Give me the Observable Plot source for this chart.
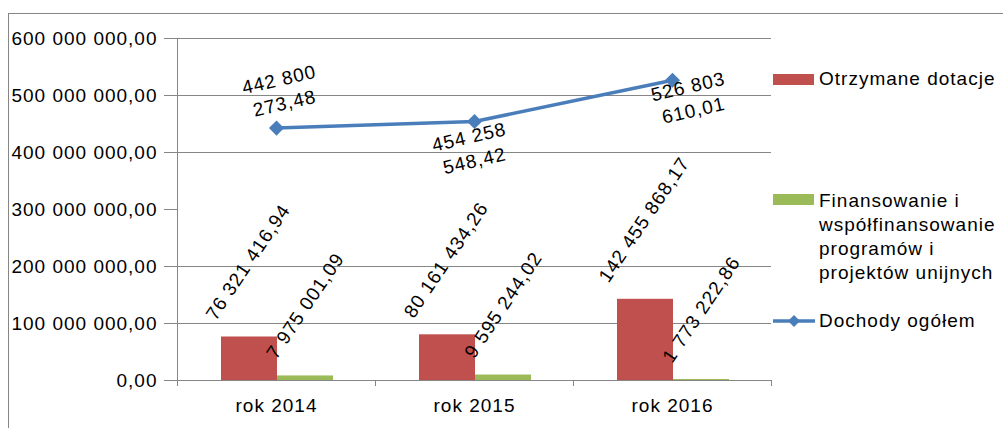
<!DOCTYPE html>
<html>
<head>
<meta charset="utf-8">
<script src="https://cdn.jsdelivr.net/npm/d3@7"></script>
<script src="https://cdn.jsdelivr.net/npm/@observablehq/plot@0.6"></script>
<style>
  html, body { margin: 0; padding: 0; background: #fff; }
  #wrap { position: relative; width: 1003px; height: 428px; overflow: hidden;
          font-family: "Liberation Sans", Arial, sans-serif; }
  #frame { position: absolute; left: 8px; top: 13px; width: 1200px; height: 600px;
           border-top: 1px solid #868686; border-left: 1px solid #868686; pointer-events: none; }
  #chart { position: absolute; left: 0; top: 0; }
  #chart svg text { fill: #000; font-family: "Liberation Sans", Arial, sans-serif; font-size: 19px; letter-spacing: 1px; }
  .leg { position: absolute; font-size: 19px; letter-spacing: 1px; line-height: 24.2px; color: #000; white-space: nowrap; }
  .sw { position: absolute; width: 41px; height: 11px; }
</style>
</head>
<body>
<div id="wrap">
  <div id="chart"></div>
  <div id="frame"></div>
  <div id="legend"></div>
</div>
<script>
// ---- data ----
const years = ["rok 2014", "rok 2015", "rok 2016"];
const dotacje = [76321416.94, 80161434.26, 142455868.17];
const finansowanie = [7975001.09, 9595244.02, 1773222.86];
const dochody = [442800273.48, 454258548.42, 526803610.01];
const yTicks = [0, 100e6, 200e6, 300e6, 400e6, 500e6, 600e6];
const gridValues = [100e6, 200e6, 400e6, 500e6, 600e6];
const seriesNames = ["Otrzymane dotacje", "Finansowanie i współfinansowanie programów i projektów unijnych", "Dochody ogółem"];
const legendLines = [["Otrzymane dotacje"], ["Finansowanie i", "współfinansowanie", "programów i", "projektów unijnych"], ["Dochody ogółem"]];
const colors = ["#C0504D", "#9BBB59", "#4A7EBB"];

// ---- helpers ----
const loc = d3.formatLocale({decimal: ",", thousands: " ", grouping: [3], currency: ["", ""]});
const fmt = loc.format(",.2f");
const ctx = document.createElement("canvas").getContext("2d");
ctx.font = "19px 'Liberation Sans'";
const LS = 1;
const textLen = s => ctx.measureText(s).width + LS * s.length;

const W = 1003, H = 428;
const mL = 177, mR = 232, mT = 38, mB = 48;
const step = (W - mL - mR) / years.length;

const barTable = years.map((y, i) => ({year: y, dot: dotacje[i], fin: finansowanie[i], doch: dochody[i]}));

// bar labels
const ANG = 56, SIN = Math.sin(ANG * Math.PI / 180);
const redOff = -28.3, greenOff = 29;
const barLabelMarks = [];
[["dot", redOff], ["fin", greenOff]].forEach(([key, off]) => {
  barTable.forEach(d => {
    const t = fmt(d[key]);
    const L = textLen(t);
    barLabelMarks.push(Plot.text([d], {
      x: "year", y: key, text: () => t, rotate: -ANG, textAnchor: "middle",
      dx: off, dy: -(L / 2 * SIN + 19), fill: "#000"
    }));
  });
});

// line labels
const lineLabelOffsets = [[5, -38], [-3, 26], [18, 17]];
const lineLabelMarks = barTable.map((d, i) => {
  const s = fmt(d.doch);
  const k = s.lastIndexOf(" ");
  const t = s.slice(0, k) + "\n" + s.slice(k + 1);
  return Plot.text([d], {
    x: "year", y: "doch", text: () => t, rotate: -13, lineHeight: 1.28,
    textAnchor: "middle", dx: lineLabelOffsets[i][0], dy: lineLabelOffsets[i][1], fill: "#000"
  });
});

const boundaries = years.map((y, i) => ({year: y, top: i === 0 ? 600e6 : 0}));

const chart = Plot.plot({
  width: W, height: H,
  marginLeft: mL, marginRight: mR, marginTop: mT, marginBottom: mB,
  style: {background: "transparent", color: "#868686", fontFamily: "Liberation Sans", fontSize: "19px", overflow: "visible"},
  x: {domain: years, padding: 0, tickSize: 0, tickPadding: 18, label: null},
  y: {domain: [0, 600e6], ticks: yTicks, tickFormat: fmt, tickSize: 13, tickPadding: 7, label: null, grid: false, line: false},
  marks: [
    Plot.ruleY(gridValues, {stroke: "#868686", strokeWidth: 1}),
    Plot.ruleY([0], {stroke: "#868686", strokeWidth: 1}),
    Plot.ruleX(boundaries, {x: "year", y1: "top", y2: () => 0, dx: -step / 2, insetBottom: -6, stroke: "#868686"}),
    Plot.ruleX([boundaries[boundaries.length - 1]], {x: "year", y1: () => 0, y2: () => 0, dx: step / 2, insetBottom: -6, stroke: "#868686"}),
    Plot.barY(barTable, {x: "year", y: "dot", fill: colors[0], insetLeft: 44, insetRight: 98}),
    Plot.barY(barTable, {x: "year", y: "fin", fill: colors[1], insetLeft: 100, insetRight: 42}),
    Plot.line(barTable, {x: "year", y: "doch", stroke: colors[2], strokeWidth: 3.5}),
    Plot.dot(barTable, {x: "year", y: "doch", symbol: "diamond2", r: 6.8, fill: colors[2], stroke: "none"}),
    ...barLabelMarks,
    ...lineLabelMarks
  ]
});
document.getElementById("chart").appendChild(chart);

// ---- legend (HTML) ----
const legend = document.getElementById("legend");
const legTops = [67, 188.6, 308.6];
const swTops = [74, 194, 0];
legendLines.forEach((lines, i) => {
  const txt = document.createElement("div");
  txt.className = "leg";
  txt.style.left = "819px";
  txt.style.top = legTops[i] + "px";
  txt.innerHTML = lines.join("<br>");
  txt.title = seriesNames[i];
  legend.appendChild(txt);
  if (i < 2) {
    const sw = document.createElement("div");
    sw.className = "sw";
    sw.style.left = "773px";
    sw.style.top = swTops[i] + "px";
    sw.style.background = colors[i];
    legend.appendChild(sw);
  } else {
    const ns = "http://www.w3.org/2000/svg";
    const s = document.createElementNS(ns, "svg");
    s.setAttribute("width", 44); s.setAttribute("height", 16);
    s.style.position = "absolute"; s.style.left = "772px"; s.style.top = "313px";
    const l = document.createElementNS(ns, "line");
    l.setAttribute("x1", 1); l.setAttribute("x2", 43); l.setAttribute("y1", 8); l.setAttribute("y2", 8);
    l.setAttribute("stroke", colors[2]); l.setAttribute("stroke-width", 3.5);
    const p = document.createElementNS(ns, "path");
    p.setAttribute("d", "M22,2L28,8L22,14L16,8Z");
    p.setAttribute("fill", colors[2]);
    s.appendChild(l); s.appendChild(p);
    legend.appendChild(s);
  }
});
</script>
</body>
</html>
